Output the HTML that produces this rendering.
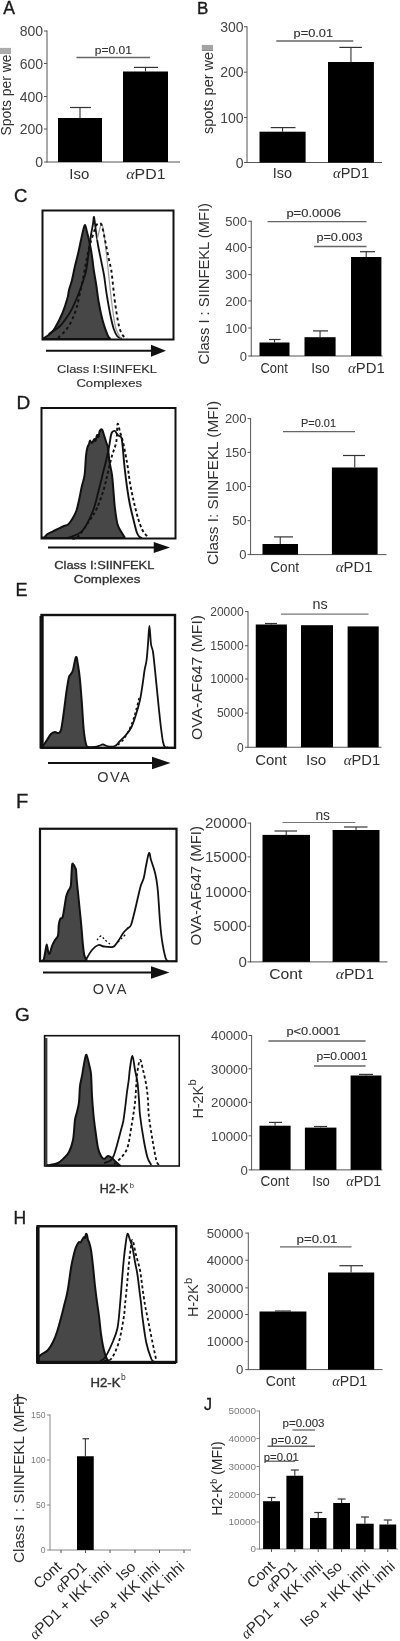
<!DOCTYPE html>
<html><head><meta charset="utf-8"><style>
html,body{margin:0;padding:0;background:#fff;}
body{width:400px;height:1641px;overflow:hidden;}
svg{display:block;font-family:"Liberation Sans",sans-serif;white-space:pre;filter:blur(0.65px) grayscale(1);}
</style></head><body>
<svg width="400" height="1641" viewBox="0 0 400 1641">
<rect x="0" y="0" width="400" height="1641" fill="#fff"/>
<text x="3.2" y="13.5" font-size="17.5" text-anchor="start" fill="#1a1a1a" stroke="#1a1a1a" stroke-width="0.35">A</text>
<line x1="47" y1="30.5" x2="47" y2="162.5" stroke="#555" stroke-width="1.0" stroke-linecap="butt"/>
<line x1="44" y1="31" x2="47" y2="31" stroke="#555" stroke-width="1.0" stroke-linecap="butt"/>
<text x="43" y="36.04" font-size="14" text-anchor="end" fill="#454545">800</text>
<line x1="44" y1="63.5" x2="47" y2="63.5" stroke="#555" stroke-width="1.0" stroke-linecap="butt"/>
<text x="43" y="68.54" font-size="14" text-anchor="end" fill="#454545">600</text>
<line x1="44" y1="96.5" x2="47" y2="96.5" stroke="#555" stroke-width="1.0" stroke-linecap="butt"/>
<text x="43" y="101.54" font-size="14" text-anchor="end" fill="#454545">400</text>
<line x1="44" y1="129" x2="47" y2="129" stroke="#555" stroke-width="1.0" stroke-linecap="butt"/>
<text x="43" y="134.04" font-size="14" text-anchor="end" fill="#454545">200</text>
<line x1="44" y1="162" x2="47" y2="162" stroke="#555" stroke-width="1.0" stroke-linecap="butt"/>
<text x="43" y="167.04" font-size="14" text-anchor="end" fill="#454545">0</text>
<line x1="47" y1="162" x2="180" y2="162" stroke="#555" stroke-width="1.0" stroke-linecap="butt"/>
<rect x="58" y="118" width="44" height="44" fill="#000"/>
<line x1="80.0" y1="118" x2="80.0" y2="107.5" stroke="#333" stroke-width="1.1" stroke-linecap="butt"/>
<line x1="70" y1="107.5" x2="91" y2="107.5" stroke="#333" stroke-width="1.2000000000000002" stroke-linecap="butt"/>
<rect x="123" y="71.5" width="45" height="90.5" fill="#000"/>
<line x1="145.5" y1="71.5" x2="145.5" y2="67.4" stroke="#333" stroke-width="1.1" stroke-linecap="butt"/>
<line x1="134" y1="67.4" x2="158" y2="67.4" stroke="#333" stroke-width="1.2000000000000002" stroke-linecap="butt"/>
<line x1="76.5" y1="57.5" x2="150" y2="57.5" stroke="#666" stroke-width="1.3" stroke-linecap="butt"/>
<text x="113.325" y="54.2" font-size="10.5" text-anchor="middle" fill="#303030" textLength="37.15" lengthAdjust="spacingAndGlyphs" stroke="#303030" stroke-width="0.12">p=0.01</text>
<text x="79.225" y="179" font-size="14" text-anchor="middle" fill="#303030" textLength="19.95" lengthAdjust="spacingAndGlyphs">Iso</text>
<text x="145.9" y="179" font-size="15" text-anchor="middle" fill="#303030" textLength="39.2" lengthAdjust="spacingAndGlyphs"><tspan font-family="Liberation Serif" font-style="italic">α</tspan>PD1</text>
<g transform="translate(10.6 92.0) rotate(-90)"><text x="0" y="0" font-size="14" text-anchor="middle" fill="#303030" textLength="87.0" lengthAdjust="spacingAndGlyphs">Spots per well</text></g>
<text x="197" y="13.5" font-size="17" text-anchor="start" fill="#1a1a1a" stroke="#1a1a1a" stroke-width="0.35">B</text>
<line x1="247" y1="26.25" x2="247" y2="163.0" stroke="#555" stroke-width="1.0" stroke-linecap="butt"/>
<line x1="244" y1="26.75" x2="247" y2="26.75" stroke="#555" stroke-width="1.0" stroke-linecap="butt"/>
<text x="243.5" y="31.79" font-size="14" text-anchor="end" fill="#454545">300</text>
<line x1="244" y1="72.2" x2="247" y2="72.2" stroke="#555" stroke-width="1.0" stroke-linecap="butt"/>
<text x="243.5" y="77.24000000000001" font-size="14" text-anchor="end" fill="#454545">200</text>
<line x1="244" y1="117.5" x2="247" y2="117.5" stroke="#555" stroke-width="1.0" stroke-linecap="butt"/>
<text x="243.5" y="122.54" font-size="14" text-anchor="end" fill="#454545">100</text>
<line x1="244" y1="162.5" x2="247" y2="162.5" stroke="#555" stroke-width="1.0" stroke-linecap="butt"/>
<text x="243.5" y="167.54" font-size="14" text-anchor="end" fill="#454545">0</text>
<line x1="247" y1="162.5" x2="382" y2="162.5" stroke="#555" stroke-width="1.0" stroke-linecap="butt"/>
<rect x="259.5" y="131.7" width="46.1" height="30.8" fill="#000"/>
<line x1="282.55" y1="131.7" x2="282.55" y2="127.6" stroke="#333" stroke-width="1.1" stroke-linecap="butt"/>
<line x1="270.7" y1="127.6" x2="295.5" y2="127.6" stroke="#333" stroke-width="1.2000000000000002" stroke-linecap="butt"/>
<rect x="328" y="62" width="45.9" height="100.5" fill="#000"/>
<line x1="350.95" y1="62" x2="350.95" y2="47.4" stroke="#333" stroke-width="1.1" stroke-linecap="butt"/>
<line x1="339.4" y1="47.4" x2="361.9" y2="47.4" stroke="#333" stroke-width="1.2000000000000002" stroke-linecap="butt"/>
<line x1="276.3" y1="41" x2="353.3" y2="41" stroke="#666" stroke-width="1.3" stroke-linecap="butt"/>
<text x="313.3" y="36.9" font-size="10.5" text-anchor="middle" fill="#303030" textLength="39.4" lengthAdjust="spacingAndGlyphs" stroke="#303030" stroke-width="0.12">p=0.01</text>
<text x="282.375" y="178.2" font-size="14" text-anchor="middle" fill="#303030" textLength="19.25" lengthAdjust="spacingAndGlyphs">Iso</text>
<text x="351.0" y="178.2" font-size="14" text-anchor="middle" fill="#303030" textLength="36" lengthAdjust="spacingAndGlyphs"><tspan font-family="Liberation Serif" font-style="italic">α</tspan>PD1</text>
<g transform="translate(212.5 89.75) rotate(-90)"><text x="0" y="0" font-size="14" text-anchor="middle" fill="#303030" textLength="88.5" lengthAdjust="spacingAndGlyphs">spots per well</text></g>
<text x="14" y="202" font-size="18.5" text-anchor="start" fill="#1a1a1a" stroke="#1a1a1a" stroke-width="0.35">C</text>
<path d="M43.5,338.5 C44.58,337.75 48.08,335.75 50,334 C51.92,332.25 52.92,331.50 55,328 C57.08,324.50 60.42,318.00 62.5,313 C64.58,308.00 66.42,301.83 67.5,298 C68.58,294.17 68.25,293.00 69,290 C69.75,287.00 71.00,284.00 72,280 C73.00,276.00 74.00,270.33 75,266 C76.00,261.67 77.00,258.33 78,254 C79.00,249.67 80.17,243.83 81,240 C81.83,236.17 82.33,233.50 83,231 C83.67,228.50 84.33,224.83 85,225 C85.67,225.17 86.33,229.50 87,232 C87.67,234.50 88.33,237.00 89,240 C89.67,243.00 90.42,246.67 91,250 C91.58,253.33 92.04,256.67 92.5,260 C92.96,263.33 93.12,265.83 93.75,270 C94.38,274.17 95.42,279.58 96.25,285 C97.08,290.42 97.71,296.67 98.75,302.5 C99.79,308.33 101.04,314.58 102.5,320 C103.96,325.42 106.25,331.92 107.5,335 C108.75,338.08 109.58,337.92 110,338.5 L110,339 L43.5,339 Z" fill="#474747" stroke="#111" stroke-width="2.0" stroke-linejoin="round"/>
<path d="M48.75,334 C50.62,332.67 56.46,329.58 60,326 C63.54,322.42 67.33,316.83 70,312.5 C72.67,308.17 74.33,303.75 76,300 C77.67,296.25 78.67,293.67 80,290 C81.33,286.33 82.96,281.33 84,278 C85.04,274.67 85.42,274.67 86.25,270 C87.08,265.33 88.21,255.83 89,250 C89.79,244.17 90.33,239.33 91,235 C91.67,230.67 92.50,227.00 93,224 C93.50,221.00 93.54,216.00 94,217 C94.46,218.00 95.08,225.33 95.75,230 C96.42,234.67 97.12,240.00 98,245 C98.88,250.00 100.00,255.00 101,260 C102.00,265.00 103.12,269.75 104,275 C104.88,280.25 105.50,286.50 106.25,291.5 C107.00,296.50 107.75,300.75 108.5,305 C109.25,309.25 109.88,313.00 110.75,317 C111.62,321.00 112.62,325.75 113.75,329 C114.88,332.25 116.12,334.92 117.5,336.5 C118.88,338.08 121.25,338.17 122,338.5" fill="none" stroke="#111" stroke-width="1.8" stroke-linejoin="round"/>
<path d="M97,240 C97.50,238.00 99.17,230.67 100,228 C100.83,225.33 101.33,223.00 102,224 C102.67,225.00 103.33,229.67 104,234 C104.67,238.33 105.33,244.33 106,250 C106.67,255.67 107.25,261.00 108,268 C108.75,275.00 109.67,284.67 110.5,292 C111.33,299.33 112.08,305.83 113,312 C113.92,318.17 114.67,324.58 116,329 C117.33,333.42 120.17,336.92 121,338.5" fill="none" stroke="#999" stroke-width="1.2" stroke-linejoin="round"/>
<path d="M58,338 C59.33,336.67 63.67,333.00 66,330 C68.33,327.00 70.25,323.67 72,320 C73.75,316.33 75.17,312.50 76.5,308 C77.83,303.50 78.83,298.33 80,293 C81.17,287.67 82.42,281.50 83.5,276 C84.58,270.50 85.58,264.67 86.5,260 C87.42,255.33 88.08,251.67 89,248 C89.92,244.33 90.83,241.67 92,238 C93.17,234.33 94.83,228.50 96,226 C97.17,223.50 98.17,223.33 99,223 C99.83,222.67 100.33,222.83 101,224 C101.67,225.17 102.33,227.33 103,230 C103.67,232.67 104.33,236.67 105,240 C105.67,243.33 106.33,246.67 107,250 C107.67,253.33 108.29,256.67 109,260 C109.71,263.33 110.58,265.83 111.25,270 C111.92,274.17 112.38,279.58 113,285 C113.62,290.42 114.04,295.83 115,302.5 C115.96,309.17 117.50,319.58 118.75,325 C120.00,330.42 121.12,332.75 122.5,335 C123.88,337.25 126.25,337.92 127,338.5" fill="none" stroke="#111" stroke-width="1.9" stroke-linejoin="round" stroke-dasharray="3,3"/>
<rect x="42.5" y="210.5" width="131.0" height="129.0" fill="none" stroke="#111" stroke-width="2.0"/>
<line x1="46" y1="350.75" x2="152" y2="350.75" stroke="#111" stroke-width="2.2" stroke-linecap="butt"/>
<polygon points="151,344.75 166,350.75 151,356.75" fill="#111"/>
<text x="107" y="372.6" font-size="11" text-anchor="middle" fill="#303030" textLength="100" lengthAdjust="spacingAndGlyphs" stroke="#303030" stroke-width="0.15">Class I:SIINFEKL</text>
<text x="109.2" y="386.9" font-size="11" text-anchor="middle" fill="#303030" textLength="65.6" lengthAdjust="spacingAndGlyphs" stroke="#303030" stroke-width="0.15">Complexes</text>
<line x1="251.25" y1="220.75" x2="251.25" y2="356.5" stroke="#555" stroke-width="1.0" stroke-linecap="butt"/>
<line x1="248.25" y1="221.25" x2="251.25" y2="221.25" stroke="#555" stroke-width="1.0" stroke-linecap="butt"/>
<text x="247" y="225.93" font-size="13" text-anchor="end" fill="#454545">500</text>
<line x1="248.25" y1="247.5" x2="251.25" y2="247.5" stroke="#555" stroke-width="1.0" stroke-linecap="butt"/>
<text x="247" y="252.18" font-size="13" text-anchor="end" fill="#454545">400</text>
<line x1="248.25" y1="274.6" x2="251.25" y2="274.6" stroke="#555" stroke-width="1.0" stroke-linecap="butt"/>
<text x="247" y="279.28000000000003" font-size="13" text-anchor="end" fill="#454545">300</text>
<line x1="248.25" y1="300.9" x2="251.25" y2="300.9" stroke="#555" stroke-width="1.0" stroke-linecap="butt"/>
<text x="247" y="305.58" font-size="13" text-anchor="end" fill="#454545">200</text>
<line x1="248.25" y1="328" x2="251.25" y2="328" stroke="#555" stroke-width="1.0" stroke-linecap="butt"/>
<text x="247" y="332.68" font-size="13" text-anchor="end" fill="#454545">100</text>
<line x1="248.25" y1="356" x2="251.25" y2="356" stroke="#555" stroke-width="1.0" stroke-linecap="butt"/>
<text x="247" y="360.68" font-size="13" text-anchor="end" fill="#454545">0</text>
<line x1="251.25" y1="356" x2="382.5" y2="356" stroke="#555" stroke-width="1.0" stroke-linecap="butt"/>
<rect x="259.5" y="342.5" width="30.0" height="13.5" fill="#000"/>
<line x1="274.5" y1="342.5" x2="274.5" y2="339.5" stroke="#333" stroke-width="1.1" stroke-linecap="butt"/>
<line x1="269" y1="339.5" x2="280.5" y2="339.5" stroke="#333" stroke-width="1.2000000000000002" stroke-linecap="butt"/>
<rect x="304.5" y="337.2" width="31.1" height="18.8" fill="#000"/>
<line x1="320.05" y1="337.2" x2="320.05" y2="330.9" stroke="#333" stroke-width="1.1" stroke-linecap="butt"/>
<line x1="313" y1="330.9" x2="328" y2="330.9" stroke="#333" stroke-width="1.2000000000000002" stroke-linecap="butt"/>
<rect x="351" y="257" width="30.4" height="99" fill="#000"/>
<line x1="366.2" y1="257" x2="366.2" y2="251.7" stroke="#333" stroke-width="1.1" stroke-linecap="butt"/>
<line x1="360" y1="251.7" x2="375" y2="251.7" stroke="#333" stroke-width="1.2000000000000002" stroke-linecap="butt"/>
<line x1="267.5" y1="221.6" x2="366.5" y2="221.6" stroke="#666" stroke-width="1.3" stroke-linecap="butt"/>
<text x="313.7" y="216.5" font-size="10.5" text-anchor="middle" fill="#303030" textLength="54.6" lengthAdjust="spacingAndGlyphs" stroke="#303030" stroke-width="0.12">p=0.0006</text>
<line x1="314" y1="246.5" x2="366.5" y2="246.5" stroke="#666" stroke-width="1.3" stroke-linecap="butt"/>
<text x="339.5" y="241.4" font-size="10.5" text-anchor="middle" fill="#303030" textLength="46.2" lengthAdjust="spacingAndGlyphs" stroke="#303030" stroke-width="0.12">p=0.003</text>
<text x="274.15" y="373.2" font-size="14" text-anchor="middle" fill="#303030" textLength="27.3" lengthAdjust="spacingAndGlyphs">Cont</text>
<text x="320.525" y="373.2" font-size="14" text-anchor="middle" fill="#303030" textLength="18.55" lengthAdjust="spacingAndGlyphs">Iso</text>
<text x="366.375" y="373.2" font-size="14" text-anchor="middle" fill="#303030" textLength="36.75" lengthAdjust="spacingAndGlyphs"><tspan font-family="Liberation Serif" font-style="italic">α</tspan>PD1</text>
<g transform="translate(208.7 283.75) rotate(-90)"><text x="0" y="0" font-size="14.5" text-anchor="middle" fill="#303030" textLength="161.5" lengthAdjust="spacingAndGlyphs">Class I : SIINFEKL (MFI)</text></g>
<text x="16.5" y="409" font-size="19" text-anchor="start" fill="#1a1a1a" stroke="#1a1a1a" stroke-width="0.35">D</text>
<path d="M42.5,537.5 C42.88,537.42 43.92,537.58 44.75,537 C45.58,536.42 46.12,534.93 47.5,534 C48.88,533.07 51.17,532.30 53,531.4 C54.83,530.50 56.67,529.50 58.5,528.6 C60.33,527.70 62.40,526.68 64,526 C65.60,525.32 66.72,525.67 68.1,524.5 C69.47,523.33 70.87,521.29 72.25,519 C73.63,516.71 75.26,513.96 76.4,510.75 C77.54,507.54 78.18,503.88 79.1,499.75 C80.02,495.62 80.98,490.12 81.9,486 C82.82,481.88 83.92,480.04 84.6,475 C85.28,469.96 85.53,460.33 86,455.75 C86.47,451.17 86.90,449.46 87.4,447.5 C87.90,445.54 88.57,445.15 89,444 C89.43,442.85 89.50,440.77 90,440.6 C90.50,440.43 91.29,443.27 92,443 C92.71,442.73 93.67,439.33 94.25,439 C94.83,438.67 95.04,441.67 95.5,441 C95.96,440.33 96.50,435.67 97,435 C97.50,434.33 98.04,437.67 98.5,437 C98.96,436.33 99.17,432.23 99.75,431 C100.33,429.77 101.29,428.93 102,429.6 C102.71,430.27 103.23,432.70 104,435 C104.77,437.30 105.93,441.32 106.6,443.4 C107.27,445.48 107.53,444.57 108,447.5 C108.47,450.43 108.73,456.42 109.4,461 C110.07,465.58 111.32,469.92 112,475 C112.68,480.08 113.02,486.00 113.5,491.5 C113.98,497.00 114.22,502.50 114.9,508 C115.58,513.50 116.46,520.38 117.6,524.5 C118.74,528.62 120.60,530.67 121.75,532.75 C122.90,534.83 124.04,536.29 124.5,537 L124.5,538 L42.5,538 Z" fill="#474747" stroke="#111" stroke-width="2.0" stroke-linejoin="round"/>
<path d="M66,538 C67.00,537.75 69.17,537.83 72,536.5 C74.83,535.17 79.50,534.29 83,530 C86.50,525.71 90.43,517.17 93,510.75 C95.57,504.33 96.82,497.46 98.4,491.5 C99.98,485.54 101.13,480.50 102.5,475 C103.87,469.50 105.45,463.54 106.6,458.5 C107.75,453.46 108.71,448.42 109.4,444.75 C110.09,441.08 110.32,438.56 110.75,436.5 C111.18,434.44 111.29,433.32 112,432.4 C112.71,431.48 114.07,430.57 115,431 C115.93,431.43 116.70,434.08 117.6,435 C118.50,435.92 119.71,435.83 120.4,436.5 C121.09,437.17 121.32,436.75 121.75,439 C122.18,441.25 122.54,445.38 123,450 C123.46,454.62 123.79,460.29 124.5,466.75 C125.21,473.21 126.33,482.38 127.25,488.75 C128.17,495.12 128.88,499.50 130,505 C131.12,510.50 132.85,517.12 134,521.75 C135.15,526.38 135.97,530.21 136.9,532.75 C137.83,535.29 138.75,536.12 139.6,537 C140.45,537.88 141.60,537.83 142,538" fill="none" stroke="#111" stroke-width="1.9" stroke-linejoin="round"/>
<path d="M72,538.5 C72.96,538.25 74.96,539.79 77.75,537 C80.54,534.21 85.54,526.58 88.75,521.75 C91.96,516.92 94.47,513.50 97,508 C99.53,502.50 102.07,494.75 103.9,488.75 C105.73,482.75 106.65,477.50 108,472 C109.35,466.50 110.62,460.75 112,455.75 C113.38,450.75 115.32,447.29 116.25,442 C117.18,436.71 116.97,425.67 117.6,424 C118.22,422.33 119.10,429.00 120,432 C120.90,435.00 121.79,436.67 123,442 C124.21,447.33 126.08,457.17 127.25,464 C128.42,470.83 128.88,476.58 130,483 C131.12,489.42 132.62,496.50 134,502.5 C135.38,508.50 136.85,514.42 138.25,519 C139.65,523.58 141.03,527.25 142.4,530 C143.78,532.75 145.40,534.25 146.5,535.5 C147.60,536.75 148.58,537.17 149,537.5" fill="none" stroke="#111" stroke-width="1.9" stroke-linejoin="round" stroke-dasharray="3,2.5"/>
<rect x="41.5" y="408" width="134.0" height="130.5" fill="none" stroke="#111" stroke-width="2.0"/>
<line x1="48" y1="547.5" x2="154.75" y2="547.5" stroke="#111" stroke-width="2.2" stroke-linecap="butt"/>
<polygon points="153.75,542.0 170,547.5 153.75,553.0" fill="#111"/>
<text x="104.3" y="568.75" font-size="11" text-anchor="middle" fill="#303030" textLength="100" lengthAdjust="spacingAndGlyphs" stroke="#303030" stroke-width="0.3">Class I:SIINFEKL</text>
<text x="107.1" y="583" font-size="11" text-anchor="middle" fill="#303030" textLength="66.7" lengthAdjust="spacingAndGlyphs" stroke="#303030" stroke-width="0.3">Complexes</text>
<line x1="250.6" y1="418.1" x2="250.6" y2="555.1" stroke="#555" stroke-width="1.0" stroke-linecap="butt"/>
<line x1="247.6" y1="418.6" x2="250.6" y2="418.6" stroke="#555" stroke-width="1.0" stroke-linecap="butt"/>
<text x="246.6" y="423.28000000000003" font-size="13" text-anchor="end" fill="#454545">200</text>
<line x1="247.6" y1="452.4" x2="250.6" y2="452.4" stroke="#555" stroke-width="1.0" stroke-linecap="butt"/>
<text x="246.6" y="457.08" font-size="13" text-anchor="end" fill="#454545">150</text>
<line x1="247.6" y1="486.5" x2="250.6" y2="486.5" stroke="#555" stroke-width="1.0" stroke-linecap="butt"/>
<text x="246.6" y="491.18" font-size="13" text-anchor="end" fill="#454545">100</text>
<line x1="247.6" y1="520.7" x2="250.6" y2="520.7" stroke="#555" stroke-width="1.0" stroke-linecap="butt"/>
<text x="246.6" y="525.38" font-size="13" text-anchor="end" fill="#454545">50</text>
<line x1="247.6" y1="554.6" x2="250.6" y2="554.6" stroke="#555" stroke-width="1.0" stroke-linecap="butt"/>
<text x="246.6" y="559.28" font-size="13" text-anchor="end" fill="#454545">0</text>
<line x1="250.6" y1="554.6" x2="386.5" y2="554.6" stroke="#555" stroke-width="1.0" stroke-linecap="butt"/>
<rect x="262.5" y="544" width="35.5" height="10.6" fill="#000"/>
<line x1="280.25" y1="544" x2="280.25" y2="536.9" stroke="#333" stroke-width="1.1" stroke-linecap="butt"/>
<line x1="274" y1="536.9" x2="293" y2="536.9" stroke="#333" stroke-width="1.2000000000000002" stroke-linecap="butt"/>
<rect x="331.9" y="467.5" width="45.7" height="87.1" fill="#000"/>
<line x1="354.75" y1="467.5" x2="354.75" y2="455.5" stroke="#333" stroke-width="1.1" stroke-linecap="butt"/>
<line x1="343" y1="455.5" x2="365" y2="455.5" stroke="#333" stroke-width="1.2000000000000002" stroke-linecap="butt"/>
<line x1="283" y1="431.6" x2="355" y2="431.6" stroke="#666" stroke-width="1.3" stroke-linecap="butt"/>
<text x="318.5" y="427" font-size="10.5" text-anchor="middle" fill="#303030" textLength="35" lengthAdjust="spacingAndGlyphs" stroke="#303030" stroke-width="0.12">P=0.01</text>
<text x="284.65" y="571.7" font-size="14" text-anchor="middle" fill="#303030" textLength="28.7" lengthAdjust="spacingAndGlyphs">Cont</text>
<text x="354.125" y="571.7" font-size="14" text-anchor="middle" fill="#303030" textLength="36.75" lengthAdjust="spacingAndGlyphs"><tspan font-family="Liberation Serif" font-style="italic">α</tspan>PD1</text>
<g transform="translate(217.5 483.0) rotate(-90)"><text x="0" y="0" font-size="15" text-anchor="middle" fill="#303030" textLength="164" lengthAdjust="spacingAndGlyphs">Class I:  SIINFEKL (MFI)</text></g>
<text x="15.5" y="596" font-size="18" text-anchor="start" fill="#1a1a1a" stroke="#1a1a1a" stroke-width="0.35">E</text>
<path d="M43,746 C43.67,745.00 45.67,742.00 47,740 C48.33,738.00 49.67,735.33 51,734 C52.33,732.67 53.83,732.17 55,732 C56.17,731.83 57.00,733.33 58,733 C59.00,732.67 60.04,733.42 61,730 C61.96,726.58 62.92,718.33 63.75,712.5 C64.58,706.67 65.38,699.58 66,695 C66.62,690.42 67.00,688.00 67.5,685 C68.00,682.00 68.42,678.83 69,677 C69.58,675.17 70.33,675.17 71,674 C71.67,672.83 72.17,672.83 73,670 C73.83,667.17 75.17,657.83 76,657 C76.83,656.17 77.33,661.17 78,665 C78.67,668.83 79.33,673.33 80,680 C80.67,686.67 81.38,696.67 82,705 C82.62,713.33 83.04,723.33 83.75,730 C84.46,736.67 85.38,742.08 86.25,745 C87.12,747.92 88.54,747.08 89,747.5 L89,748 L43,748 Z" fill="#474747" stroke="#111" stroke-width="2.0" stroke-linejoin="round"/>
<path d="M86,747 C87.50,747.00 92.67,747.25 95,747 C97.33,746.75 98.67,745.92 100,745.5 C101.33,745.08 101.67,744.33 103,744.5 C104.33,744.67 106.00,746.25 108,746.5 C110.00,746.75 113.00,746.92 115,746 C117.00,745.08 118.33,742.67 120,741 C121.67,739.33 123.17,738.17 125,736 C126.83,733.83 129.25,731.33 131,728 C132.75,724.67 134.00,720.67 135.5,716 C137.00,711.33 138.83,705.17 140,700 C141.17,694.83 141.73,690.00 142.5,685 C143.27,680.00 143.92,674.17 144.6,670 C145.28,665.83 146.03,664.33 146.6,660 C147.17,655.67 147.53,649.67 148,644 C148.47,638.33 148.90,626.00 149.4,626 C149.90,626.00 150.40,639.67 151,644 C151.60,648.33 152.33,647.67 153,652 C153.67,656.33 154.33,663.67 155,670 C155.67,676.33 156.33,683.33 157,690 C157.67,696.67 158.33,703.67 159,710 C159.67,716.33 160.33,722.67 161,728 C161.67,733.33 162.33,738.83 163,742 C163.67,745.17 164.17,746.08 165,747 C165.83,747.92 167.50,747.42 168,747.5" fill="none" stroke="#111" stroke-width="1.8" stroke-linejoin="round"/>
<path d="M118,745 C119.00,744.00 122.17,741.50 124,739 C125.83,736.50 127.50,733.17 129,730 C130.50,726.83 131.83,723.33 133,720 C134.17,716.67 135.00,713.67 136,710 C137.00,706.33 138.50,700.00 139,698" fill="none" stroke="#111" stroke-width="1.4" stroke-linejoin="round" stroke-dasharray="2.5,2.5"/>
<rect x="41.5" y="615" width="133.5" height="132.8" fill="none" stroke="#111" stroke-width="2.4"/>
<line x1="41.6" y1="616" x2="41.6" y2="748.5" stroke="#111" stroke-width="4.2" stroke-linecap="butt"/>
<line x1="48" y1="763" x2="153" y2="763" stroke="#111" stroke-width="2.2" stroke-linecap="butt"/>
<polygon points="152,756.8 170.5,763 152,769.2" fill="#111"/>
<text x="113.5" y="781.8" font-size="14.5" text-anchor="middle" fill="#333" textLength="32.5" lengthAdjust="spacing">OVA</text>
<line x1="248" y1="611.1" x2="248" y2="747.75" stroke="#555" stroke-width="1.0" stroke-linecap="butt"/>
<line x1="245" y1="611.6" x2="248" y2="611.6" stroke="#555" stroke-width="1.0" stroke-linecap="butt"/>
<text x="243.6" y="615.9200000000001" font-size="12" text-anchor="end" fill="#454545">20000</text>
<line x1="245" y1="645.75" x2="248" y2="645.75" stroke="#555" stroke-width="1.0" stroke-linecap="butt"/>
<text x="243.6" y="650.07" font-size="12" text-anchor="end" fill="#454545">15000</text>
<line x1="245" y1="679" x2="248" y2="679" stroke="#555" stroke-width="1.0" stroke-linecap="butt"/>
<text x="243.6" y="683.32" font-size="12" text-anchor="end" fill="#454545">10000</text>
<line x1="245" y1="713.1" x2="248" y2="713.1" stroke="#555" stroke-width="1.0" stroke-linecap="butt"/>
<text x="243.6" y="717.4200000000001" font-size="12" text-anchor="end" fill="#454545">5000</text>
<line x1="245" y1="747.25" x2="248" y2="747.25" stroke="#555" stroke-width="1.0" stroke-linecap="butt"/>
<text x="243.6" y="751.57" font-size="12" text-anchor="end" fill="#454545">0</text>
<line x1="248" y1="747.25" x2="381.5" y2="747.25" stroke="#555" stroke-width="1.0" stroke-linecap="butt"/>
<rect x="255.75" y="624.5" width="31.15" height="122.75" fill="#000"/>
<line x1="271.325" y1="624.5" x2="271.325" y2="623.5" stroke="#333" stroke-width="1.1" stroke-linecap="butt"/>
<line x1="265" y1="623.5" x2="277" y2="623.5" stroke="#333" stroke-width="1.2000000000000002" stroke-linecap="butt"/>
<rect x="301" y="625.2" width="32" height="122.05" fill="#000"/>
<rect x="347.6" y="626.4" width="31.1" height="120.85" fill="#000"/>
<line x1="281" y1="614.2" x2="368.5" y2="614.2" stroke="#777" stroke-width="1.2" stroke-linecap="butt"/>
<text x="320.2" y="609.25" font-size="14.5" text-anchor="middle" fill="#303030" textLength="15.2" lengthAdjust="spacingAndGlyphs">ns</text>
<text x="271.0" y="765.2" font-size="15" text-anchor="middle" fill="#303030" textLength="31.5" lengthAdjust="spacingAndGlyphs">Cont</text>
<text x="316.15" y="765.2" font-size="15" text-anchor="middle" fill="#303030" textLength="20.3" lengthAdjust="spacingAndGlyphs">Iso</text>
<text x="362.0" y="765.2" font-size="15" text-anchor="middle" fill="#303030" textLength="36.4" lengthAdjust="spacingAndGlyphs"><tspan font-family="Liberation Serif" font-style="italic">α</tspan>PD1</text>
<g transform="translate(202 677.5) rotate(-90)"><text x="0" y="0" font-size="15" text-anchor="middle" fill="#303030" textLength="125" lengthAdjust="spacingAndGlyphs">OVA-AF647  (MFI)</text></g>
<text x="16" y="807.5" font-size="20" text-anchor="start" fill="#1a1a1a" stroke="#1a1a1a" stroke-width="0.35">F</text>
<path d="M42,960.5 C42.29,960.33 43.21,960.92 43.75,959.5 C44.29,958.08 44.75,954.50 45.25,952 C45.75,949.50 46.25,944.50 46.75,944.5 C47.25,944.50 47.75,950.50 48.25,952 C48.75,953.50 49.12,954.50 49.75,953.5 C50.38,952.50 51.12,948.25 52,946 C52.88,943.75 54.00,941.75 55,940 C56.00,938.25 57.38,938.00 58,935.5 C58.62,933.00 58.38,927.75 58.75,925 C59.12,922.25 59.62,920.25 60.25,919 C60.88,917.75 61.88,919.00 62.5,917.5 C63.12,916.00 63.38,913.50 64,910 C64.62,906.50 65.50,899.75 66.25,896.5 C67.00,893.25 67.75,892.25 68.5,890.5 C69.25,888.75 70.25,888.75 70.75,886 C71.25,883.25 71.25,877.62 71.5,874 C71.75,870.38 71.88,865.75 72.25,864.25 C72.62,862.75 73.25,864.38 73.75,865 C74.25,865.62 74.88,867.25 75.25,868 C75.62,868.75 75.75,867.50 76,869.5 C76.25,871.50 76.38,875.75 76.75,880 C77.12,884.25 77.75,890.00 78.25,895 C78.75,900.00 79.25,905.00 79.75,910 C80.25,915.00 80.75,919.50 81.25,925 C81.75,930.50 82.25,938.00 82.75,943 C83.25,948.00 83.62,952.17 84.25,955 C84.88,957.83 86.12,959.17 86.5,960 L86.5,961 L42,961 Z" fill="#474747" stroke="#111" stroke-width="2.0" stroke-linejoin="round"/>
<path d="M85.75,960 C86.79,958.33 89.89,952.50 92,950 C94.11,947.50 96.40,945.58 98.4,945 C100.40,944.42 101.57,946.20 104,946.5 C106.43,946.80 110.75,947.55 113,946.8 C115.25,946.05 115.70,944.42 117.5,942 C119.30,939.58 122.05,934.63 123.8,932.3 C125.55,929.97 126.80,929.22 128,928 C129.20,926.78 129.83,928.00 131,925 C132.17,922.00 133.79,914.83 135,910 C136.21,905.17 137.25,900.17 138.25,896 C139.25,891.83 140.08,888.00 141,885 C141.92,882.00 142.92,881.17 143.75,878 C144.58,874.83 145.12,870.17 146,866 C146.88,861.83 148.17,854.00 149,853 C149.83,852.00 150.08,857.05 151,860 C151.92,862.95 153.58,867.37 154.5,870.7 C155.42,874.03 155.92,876.37 156.5,880 C157.08,883.63 157.42,885.58 158,892.5 C158.58,899.42 159.35,913.65 160,921.5 C160.65,929.35 160.98,933.57 161.9,939.6 C162.82,945.63 164.48,954.13 165.5,957.7 C166.52,961.27 167.58,960.45 168,961" fill="none" stroke="#111" stroke-width="1.8" stroke-linejoin="round"/>
<path d="M97,940 C97.67,939.33 99.67,936.00 101,936 C102.33,936.00 103.50,938.67 105,940 C106.50,941.33 109.17,943.33 110,944" fill="none" stroke="#111" stroke-width="1.3" stroke-linejoin="round" stroke-dasharray="2,2"/>
<path d="M118,942 C118.67,941.33 120.67,939.33 122,938 C123.33,936.67 125.33,934.67 126,934" fill="none" stroke="#111" stroke-width="1.3" stroke-linejoin="round" stroke-dasharray="2,2"/>
<rect x="40" y="828.75" width="136.5" height="132.5" fill="none" stroke="#111" stroke-width="2.2"/>
<line x1="43" y1="972.5" x2="152" y2="972.5" stroke="#111" stroke-width="2.2" stroke-linecap="butt"/>
<polygon points="151,966.2 169.5,972.5 151,978.8" fill="#111"/>
<text x="109.6" y="993.5" font-size="14.5" text-anchor="middle" fill="#333" textLength="33.5" lengthAdjust="spacing">OVA</text>
<line x1="250.6" y1="822.6" x2="250.6" y2="962.4" stroke="#555" stroke-width="1.0" stroke-linecap="butt"/>
<line x1="247.6" y1="823.1" x2="250.6" y2="823.1" stroke="#555" stroke-width="1.0" stroke-linecap="butt"/>
<text x="246.9" y="828.32" font-size="14.5" text-anchor="end" fill="#454545" textLength="42.0" lengthAdjust="spacingAndGlyphs">20000</text>
<line x1="247.6" y1="856.9" x2="250.6" y2="856.9" stroke="#555" stroke-width="1.0" stroke-linecap="butt"/>
<text x="246.9" y="862.12" font-size="14.5" text-anchor="end" fill="#454545" textLength="42.0" lengthAdjust="spacingAndGlyphs">15000</text>
<line x1="247.6" y1="891.6" x2="250.6" y2="891.6" stroke="#555" stroke-width="1.0" stroke-linecap="butt"/>
<text x="246.9" y="896.82" font-size="14.5" text-anchor="end" fill="#454545" textLength="42.0" lengthAdjust="spacingAndGlyphs">10000</text>
<line x1="247.6" y1="926.25" x2="250.6" y2="926.25" stroke="#555" stroke-width="1.0" stroke-linecap="butt"/>
<text x="246.9" y="931.47" font-size="14.5" text-anchor="end" fill="#454545" textLength="33.6" lengthAdjust="spacingAndGlyphs">5000</text>
<line x1="247.6" y1="961.9" x2="250.6" y2="961.9" stroke="#555" stroke-width="1.0" stroke-linecap="butt"/>
<text x="246.9" y="967.12" font-size="14.5" text-anchor="end" fill="#454545" textLength="8.4" lengthAdjust="spacingAndGlyphs">0</text>
<line x1="250.6" y1="961.9" x2="387.5" y2="961.9" stroke="#555" stroke-width="1.0" stroke-linecap="butt"/>
<rect x="262.5" y="834.9" width="47.5" height="127.0" fill="#000"/>
<line x1="286.25" y1="834.9" x2="286.25" y2="831" stroke="#333" stroke-width="1.1" stroke-linecap="butt"/>
<line x1="274.5" y1="831" x2="297" y2="831" stroke="#333" stroke-width="1.2000000000000002" stroke-linecap="butt"/>
<rect x="332.6" y="830" width="46.9" height="131.9" fill="#000"/>
<line x1="356.05" y1="830" x2="356.05" y2="827" stroke="#333" stroke-width="1.1" stroke-linecap="butt"/>
<line x1="344" y1="827" x2="367.5" y2="827" stroke="#333" stroke-width="1.2000000000000002" stroke-linecap="butt"/>
<line x1="282.4" y1="822.5" x2="355.3" y2="822.5" stroke="#777" stroke-width="1.2" stroke-linecap="butt"/>
<text x="322.7" y="819.8" font-size="14.5" text-anchor="middle" fill="#303030" textLength="14.6" lengthAdjust="spacingAndGlyphs">ns</text>
<text x="285.875" y="978.8" font-size="15" text-anchor="middle" fill="#303030" textLength="33.25" lengthAdjust="spacingAndGlyphs">Cont</text>
<text x="355.0" y="978.8" font-size="15" text-anchor="middle" fill="#303030" textLength="38.5" lengthAdjust="spacingAndGlyphs"><tspan font-family="Liberation Serif" font-style="italic">α</tspan>PD1</text>
<g transform="translate(200.8 885.75) rotate(-90)"><text x="0" y="0" font-size="14.5" text-anchor="middle" fill="#303030" textLength="119.5" lengthAdjust="spacingAndGlyphs">OVA-AF647  (MFI)</text></g>
<text x="15" y="1020.5" font-size="19" text-anchor="start" fill="#1a1a1a" stroke="#1a1a1a" stroke-width="0.35">G</text>
<path d="M47,1165 C47.50,1165.00 48.17,1165.33 50,1165 C51.83,1164.67 55.67,1164.17 58,1163 C60.33,1161.83 62.17,1159.83 64,1158 C65.83,1156.17 67.50,1155.00 69,1152 C70.50,1149.00 72.00,1145.33 73,1140 C74.00,1134.67 74.33,1124.67 75,1120 C75.67,1115.33 76.33,1115.00 77,1112 C77.67,1109.00 78.50,1106.33 79,1102 C79.50,1097.67 79.50,1090.33 80,1086 C80.50,1081.67 81.33,1079.67 82,1076 C82.67,1072.33 83.33,1067.50 84,1064 C84.67,1060.50 85.42,1056.00 86,1055 C86.58,1054.00 87.00,1056.50 87.5,1058 C88.00,1059.50 88.42,1061.33 89,1064 C89.58,1066.67 90.50,1068.67 91,1074 C91.50,1079.33 91.57,1089.00 92,1096 C92.43,1103.00 93.00,1110.00 93.6,1116 C94.20,1122.00 94.87,1126.67 95.6,1132 C96.33,1137.33 97.10,1144.00 98,1148 C98.90,1152.00 100.00,1154.17 101,1156 C102.00,1157.83 102.83,1159.00 104,1159 C105.17,1159.00 106.67,1156.17 108,1156 C109.33,1155.83 110.67,1157.00 112,1158 C113.33,1159.00 114.67,1160.75 116,1162 C117.33,1163.25 119.33,1164.92 120,1165.5 L120,1165.5 L47,1165.5 Z" fill="#474747" stroke="#111" stroke-width="2.0" stroke-linejoin="round"/>
<path d="M104,1163 C105.12,1162.58 109.03,1161.83 110.7,1160.5 C112.37,1159.17 112.95,1157.58 114,1155 C115.05,1152.42 115.83,1149.17 117,1145 C118.17,1140.83 119.93,1134.07 121,1130 C122.07,1125.93 122.65,1124.77 123.4,1120.6 C124.15,1116.43 124.90,1109.77 125.5,1105 C126.10,1100.23 126.46,1096.17 127,1092 C127.54,1087.83 128.25,1084.00 128.75,1080 C129.25,1076.00 129.38,1072.00 130,1068 C130.62,1064.00 131.67,1055.67 132.5,1056 C133.33,1056.33 134.17,1065.58 135,1070 C135.83,1074.42 136.83,1077.50 137.5,1082.5 C138.17,1087.50 138.58,1094.58 139,1100 C139.42,1105.42 139.21,1108.33 140,1115 C140.79,1121.67 142.50,1132.92 143.75,1140 C145.00,1147.08 146.25,1153.33 147.5,1157.5 C148.75,1161.67 150.62,1163.75 151.25,1165" fill="none" stroke="#111" stroke-width="1.8" stroke-linejoin="round"/>
<path d="M114,1164 C115.21,1162.92 119.00,1160.25 121.25,1157.5 C123.50,1154.75 125.83,1152.50 127.5,1147.5 C129.17,1142.50 130.00,1135.00 131.25,1127.5 C132.50,1120.00 134.04,1111.25 135,1102.5 C135.96,1093.75 136.17,1082.08 137,1075 C137.83,1067.92 139.00,1060.83 140,1060 C141.00,1059.17 141.96,1065.83 143,1070 C144.04,1074.17 145.42,1080.00 146.25,1085 C147.08,1090.00 147.58,1095.00 148,1100 C148.42,1105.00 148.00,1108.33 148.75,1115 C149.50,1121.67 151.25,1132.50 152.5,1140 C153.75,1147.50 155.21,1155.83 156.25,1160 C157.29,1164.17 158.33,1164.17 158.75,1165" fill="none" stroke="#111" stroke-width="1.8" stroke-linejoin="round" stroke-dasharray="3,2.5"/>
<rect x="44.6" y="1035.7" width="134.65" height="130.3" fill="none" stroke="#111" stroke-width="1.6"/>
<line x1="46.2" y1="1038" x2="46.2" y2="1165" stroke="#3a3a3a" stroke-width="2.4" stroke-linecap="butt"/>
<text x="114" y="1192.5" font-size="12.5" text-anchor="middle" fill="#303030" textLength="28.5" lengthAdjust="spacingAndGlyphs" stroke="#303030" stroke-width="0.4">H2-K</text>
<text x="129.8" y="1187.5" font-size="7.5" text-anchor="start" fill="#303030">b</text>
<line x1="251.6" y1="1035.0" x2="251.6" y2="1170.4" stroke="#555" stroke-width="1.0" stroke-linecap="butt"/>
<line x1="248.6" y1="1035.5" x2="251.6" y2="1035.5" stroke="#555" stroke-width="1.0" stroke-linecap="butt"/>
<text x="247.75" y="1040.252" font-size="13.2" text-anchor="end" fill="#454545">40000</text>
<line x1="248.6" y1="1068.75" x2="251.6" y2="1068.75" stroke="#555" stroke-width="1.0" stroke-linecap="butt"/>
<text x="247.75" y="1073.502" font-size="13.2" text-anchor="end" fill="#454545">30000</text>
<line x1="248.6" y1="1102.35" x2="251.6" y2="1102.35" stroke="#555" stroke-width="1.0" stroke-linecap="butt"/>
<text x="247.75" y="1107.1019999999999" font-size="13.2" text-anchor="end" fill="#454545">20000</text>
<line x1="248.6" y1="1135.8" x2="251.6" y2="1135.8" stroke="#555" stroke-width="1.0" stroke-linecap="butt"/>
<text x="247.75" y="1140.552" font-size="13.2" text-anchor="end" fill="#454545">10000</text>
<line x1="248.6" y1="1169.9" x2="251.6" y2="1169.9" stroke="#555" stroke-width="1.0" stroke-linecap="butt"/>
<text x="247.75" y="1174.652" font-size="13.2" text-anchor="end" fill="#454545">0</text>
<line x1="251.6" y1="1169.9" x2="382.5" y2="1169.9" stroke="#555" stroke-width="1.0" stroke-linecap="butt"/>
<rect x="259.5" y="1125.7" width="31.1" height="44.2" fill="#000"/>
<line x1="275.05" y1="1125.7" x2="275.05" y2="1122.4" stroke="#333" stroke-width="1.1" stroke-linecap="butt"/>
<line x1="269" y1="1122.4" x2="282" y2="1122.4" stroke="#333" stroke-width="1.2000000000000002" stroke-linecap="butt"/>
<rect x="304.9" y="1127.6" width="31.5" height="42.3" fill="#000"/>
<line x1="320.65" y1="1127.6" x2="320.65" y2="1126.5" stroke="#333" stroke-width="1.1" stroke-linecap="butt"/>
<line x1="314" y1="1126.5" x2="327" y2="1126.5" stroke="#333" stroke-width="1.2000000000000002" stroke-linecap="butt"/>
<rect x="350.6" y="1075.5" width="30.8" height="94.4" fill="#000"/>
<line x1="366.0" y1="1075.5" x2="366.0" y2="1074.4" stroke="#333" stroke-width="1.1" stroke-linecap="butt"/>
<line x1="359" y1="1074.4" x2="373" y2="1074.4" stroke="#333" stroke-width="1.2000000000000002" stroke-linecap="butt"/>
<line x1="268.4" y1="1041" x2="365.6" y2="1041" stroke="#666" stroke-width="1.3" stroke-linecap="butt"/>
<text x="313.4" y="1035" font-size="10.5" text-anchor="middle" fill="#303030" textLength="54.0" lengthAdjust="spacingAndGlyphs" stroke="#303030" stroke-width="0.12">p<0.0001</text>
<line x1="314" y1="1066" x2="365.6" y2="1066" stroke="#666" stroke-width="1.3" stroke-linecap="butt"/>
<text x="341.9" y="1060" font-size="10.5" text-anchor="middle" fill="#303030" textLength="51.0" lengthAdjust="spacingAndGlyphs" stroke="#303030" stroke-width="0.12">p=0.0001</text>
<text x="274.85" y="1186.25" font-size="14" text-anchor="middle" fill="#303030" textLength="28.7" lengthAdjust="spacingAndGlyphs">Cont</text>
<text x="321.05" y="1186.25" font-size="14" text-anchor="middle" fill="#303030" textLength="17.5" lengthAdjust="spacingAndGlyphs">Iso</text>
<text x="363.75" y="1186.25" font-size="14" text-anchor="middle" fill="#303030" textLength="35.0" lengthAdjust="spacingAndGlyphs"><tspan font-family="Liberation Serif" font-style="italic">α</tspan>PD1</text>
<g transform="translate(202.6 1118.6) rotate(-90)"><text x="0" y="0" font-size="14.5" text-anchor="start" fill="#333" textLength="32.6" lengthAdjust="spacingAndGlyphs">H-2K</text><text x="33" y="-6.3" font-size="11" fill="#333">b</text></g>
<text x="13.5" y="1224" font-size="17.5" text-anchor="start" fill="#1a1a1a" stroke="#1a1a1a" stroke-width="0.35">H</text>
<path d="M38.5,1357 C39.08,1356.50 40.42,1355.17 42,1354 C43.58,1352.83 46.17,1352.00 48,1350 C49.83,1348.00 51.50,1345.00 53,1342 C54.50,1339.00 55.67,1336.00 57,1332 C58.33,1328.00 59.83,1322.33 61,1318 C62.17,1313.67 63.00,1310.00 64,1306 C65.00,1302.00 66.17,1298.00 67,1294 C67.83,1290.00 68.33,1286.33 69,1282 C69.67,1277.67 70.33,1272.00 71,1268 C71.67,1264.00 72.33,1261.00 73,1258 C73.67,1255.00 74.33,1252.17 75,1250 C75.67,1247.83 76.33,1246.33 77,1245 C77.67,1243.67 78.42,1242.42 79,1242 C79.58,1241.58 80.00,1242.83 80.5,1242.5 C81.00,1242.17 81.42,1240.92 82,1240 C82.58,1239.08 83.50,1237.33 84,1237 C84.50,1236.67 84.67,1238.50 85,1238 C85.33,1237.50 85.67,1234.50 86,1234 C86.33,1233.50 86.67,1234.00 87,1235 C87.33,1236.00 87.67,1238.83 88,1240 C88.33,1241.17 88.50,1240.33 89,1242 C89.50,1243.67 90.33,1246.00 91,1250 C91.67,1254.00 92.33,1260.00 93,1266 C93.67,1272.00 94.33,1280.00 95,1286 C95.67,1292.00 96.33,1297.00 97,1302 C97.67,1307.00 98.33,1310.67 99,1316 C99.67,1321.33 100.33,1329.00 101,1334 C101.67,1339.00 102.33,1342.67 103,1346 C103.67,1349.33 104.33,1351.83 105,1354 C105.67,1356.17 106.33,1357.75 107,1359 C107.67,1360.25 108.67,1361.08 109,1361.5 L109,1362 L38.5,1362 Z" fill="#474747" stroke="#111" stroke-width="2.0" stroke-linejoin="round"/>
<path d="M100,1361 C100.83,1360.42 102.92,1360.58 105,1357.5 C107.08,1354.42 110.42,1347.42 112.5,1342.5 C114.58,1337.58 116.25,1334.25 117.5,1328 C118.75,1321.75 119.25,1313.00 120,1305 C120.75,1297.00 121.38,1287.50 122,1280 C122.62,1272.50 123.17,1265.83 123.75,1260 C124.33,1254.17 124.88,1249.38 125.5,1245 C126.12,1240.62 126.75,1234.58 127.5,1233.75 C128.25,1232.92 129.17,1237.71 130,1240 C130.83,1242.29 131.67,1243.83 132.5,1247.5 C133.33,1251.17 134.17,1257.42 135,1262 C135.83,1266.58 136.67,1269.50 137.5,1275 C138.33,1280.50 139.38,1290.00 140,1295 C140.62,1300.00 140.83,1301.25 141.25,1305 C141.67,1308.75 141.67,1311.25 142.5,1317.5 C143.33,1323.75 144.79,1335.62 146.25,1342.5 C147.71,1349.38 149.96,1355.58 151.25,1358.75 C152.54,1361.92 153.54,1361.04 154,1361.5" fill="none" stroke="#111" stroke-width="1.8" stroke-linejoin="round"/>
<path d="M104,1361 C105.21,1360.62 108.79,1361.83 111.25,1358.75 C113.71,1355.67 116.67,1349.38 118.75,1342.5 C120.83,1335.62 122.71,1323.75 123.75,1317.5 C124.79,1311.25 124.46,1310.42 125,1305 C125.54,1299.58 126.38,1291.67 127,1285 C127.62,1278.33 128.17,1270.83 128.75,1265 C129.33,1259.17 129.88,1254.17 130.5,1250 C131.12,1245.83 131.58,1239.17 132.5,1240 C133.42,1240.83 134.75,1250.00 136,1255 C137.25,1260.00 138.92,1264.50 140,1270 C141.08,1275.50 141.67,1282.17 142.5,1288 C143.33,1293.83 144.17,1300.08 145,1305 C145.83,1309.92 146.25,1311.25 147.5,1317.5 C148.75,1323.75 151.04,1335.42 152.5,1342.5 C153.96,1349.58 155.62,1357.08 156.25,1360" fill="none" stroke="#111" stroke-width="1.8" stroke-linejoin="round" stroke-dasharray="3,2.5"/>
<rect x="37.5" y="1226.25" width="138.75" height="135.75" fill="none" stroke="#111" stroke-width="2.4"/>
<line x1="37.8" y1="1227" x2="37.8" y2="1363.5" stroke="#111" stroke-width="3.6" stroke-linecap="butt"/>
<line x1="37" y1="1362.6" x2="176" y2="1362.6" stroke="#111" stroke-width="3.0" stroke-linecap="butt"/>
<text x="105.5" y="1386.5" font-size="13" text-anchor="middle" fill="#303030" textLength="30" lengthAdjust="spacingAndGlyphs" stroke="#303030" stroke-width="0.4">H2-K</text>
<text x="121" y="1380" font-size="8.5" text-anchor="start" fill="#303030">b</text>
<line x1="248.3" y1="1232.6" x2="248.3" y2="1370.1" stroke="#555" stroke-width="1.0" stroke-linecap="butt"/>
<line x1="245.3" y1="1233.1" x2="248.3" y2="1233.1" stroke="#555" stroke-width="1.0" stroke-linecap="butt"/>
<text x="243.4" y="1237.8519999999999" font-size="13.2" text-anchor="end" fill="#454545">50000</text>
<line x1="245.3" y1="1260.25" x2="248.3" y2="1260.25" stroke="#555" stroke-width="1.0" stroke-linecap="butt"/>
<text x="243.4" y="1265.002" font-size="13.2" text-anchor="end" fill="#454545">40000</text>
<line x1="245.3" y1="1287.9" x2="248.3" y2="1287.9" stroke="#555" stroke-width="1.0" stroke-linecap="butt"/>
<text x="243.4" y="1292.652" font-size="13.2" text-anchor="end" fill="#454545">30000</text>
<line x1="245.3" y1="1314.5" x2="248.3" y2="1314.5" stroke="#555" stroke-width="1.0" stroke-linecap="butt"/>
<text x="243.4" y="1319.252" font-size="13.2" text-anchor="end" fill="#454545">20000</text>
<line x1="245.3" y1="1341.6" x2="248.3" y2="1341.6" stroke="#555" stroke-width="1.0" stroke-linecap="butt"/>
<text x="243.4" y="1346.3519999999999" font-size="13.2" text-anchor="end" fill="#454545">10000</text>
<line x1="245.3" y1="1369.6" x2="248.3" y2="1369.6" stroke="#555" stroke-width="1.0" stroke-linecap="butt"/>
<text x="243.4" y="1374.3519999999999" font-size="13.2" text-anchor="end" fill="#454545">0</text>
<line x1="248.3" y1="1369.6" x2="382.5" y2="1369.6" stroke="#555" stroke-width="1.0" stroke-linecap="butt"/>
<rect x="259.5" y="1311.5" width="46.9" height="58.1" fill="#000"/>
<line x1="282.95" y1="1311.5" x2="282.95" y2="1311" stroke="#333" stroke-width="1.1" stroke-linecap="butt"/>
<line x1="275" y1="1311" x2="291" y2="1311" stroke="#333" stroke-width="1.2000000000000002" stroke-linecap="butt"/>
<rect x="328" y="1272.5" width="46.2" height="97.1" fill="#000"/>
<line x1="351.1" y1="1272.5" x2="351.1" y2="1265.7" stroke="#333" stroke-width="1.1" stroke-linecap="butt"/>
<line x1="339.4" y1="1265.7" x2="363" y2="1265.7" stroke="#333" stroke-width="1.2000000000000002" stroke-linecap="butt"/>
<line x1="280" y1="1246.8" x2="351.5" y2="1246.8" stroke="#666" stroke-width="1.3" stroke-linecap="butt"/>
<text x="317.0" y="1242.5" font-size="10.5" text-anchor="middle" fill="#303030" textLength="41.0" lengthAdjust="spacingAndGlyphs" stroke="#303030" stroke-width="0.12">p=0.01</text>
<text x="280.625" y="1386.25" font-size="14" text-anchor="middle" fill="#303030" textLength="29.75" lengthAdjust="spacingAndGlyphs">Cont</text>
<text x="349.75" y="1386.25" font-size="14" text-anchor="middle" fill="#303030" textLength="35.0" lengthAdjust="spacingAndGlyphs"><tspan font-family="Liberation Serif" font-style="italic">α</tspan>PD1</text>
<g transform="translate(198.4 1317) rotate(-90)"><text x="0" y="0" font-size="14.5" text-anchor="start" fill="#333" textLength="32.6" lengthAdjust="spacingAndGlyphs">H-2K</text><text x="33" y="-6.3" font-size="11" fill="#333">b</text></g>
<line x1="17.7" y1="1394" x2="17.7" y2="1406" stroke="#222" stroke-width="1.6" stroke-linecap="butt"/>
<line x1="50" y1="1414.5" x2="50" y2="1550.5" stroke="#888" stroke-width="1.0" stroke-linecap="butt"/>
<line x1="47" y1="1415" x2="50" y2="1415" stroke="#888" stroke-width="1.0" stroke-linecap="butt"/>
<text x="45.5" y="1418.42" font-size="9.5" text-anchor="end" fill="#7a7a7a" textLength="14.4" lengthAdjust="spacingAndGlyphs">150</text>
<line x1="47" y1="1460" x2="50" y2="1460" stroke="#888" stroke-width="1.0" stroke-linecap="butt"/>
<text x="45.5" y="1463.42" font-size="9.5" text-anchor="end" fill="#7a7a7a" textLength="14.4" lengthAdjust="spacingAndGlyphs">100</text>
<line x1="47" y1="1505" x2="50" y2="1505" stroke="#888" stroke-width="1.0" stroke-linecap="butt"/>
<text x="45.5" y="1508.42" font-size="9.5" text-anchor="end" fill="#7a7a7a" textLength="9.6" lengthAdjust="spacingAndGlyphs">50</text>
<line x1="47" y1="1550" x2="50" y2="1550" stroke="#888" stroke-width="1.0" stroke-linecap="butt"/>
<text x="45.5" y="1553.42" font-size="9.5" text-anchor="end" fill="#7a7a7a" textLength="4.8" lengthAdjust="spacingAndGlyphs">0</text>
<line x1="50" y1="1550" x2="191" y2="1550" stroke="#888" stroke-width="1.0" stroke-linecap="butt"/>
<line x1="61" y1="1550" x2="61" y2="1553" stroke="#555" stroke-width="1.0" stroke-linecap="butt"/>
<line x1="85.5" y1="1550" x2="85.5" y2="1553" stroke="#555" stroke-width="1.0" stroke-linecap="butt"/>
<line x1="110" y1="1550" x2="110" y2="1553" stroke="#555" stroke-width="1.0" stroke-linecap="butt"/>
<line x1="135" y1="1550" x2="135" y2="1553" stroke="#555" stroke-width="1.0" stroke-linecap="butt"/>
<line x1="159.5" y1="1550" x2="159.5" y2="1553" stroke="#555" stroke-width="1.0" stroke-linecap="butt"/>
<line x1="184" y1="1550" x2="184" y2="1553" stroke="#555" stroke-width="1.0" stroke-linecap="butt"/>
<rect x="77" y="1456.25" width="16.75" height="93.75" fill="#000"/>
<line x1="85.375" y1="1456.25" x2="85.375" y2="1438.75" stroke="#333" stroke-width="1.1" stroke-linecap="butt"/>
<line x1="82.5" y1="1438.75" x2="89" y2="1438.75" stroke="#333" stroke-width="1.2000000000000002" stroke-linecap="butt"/>
<g transform="translate(23.5 1479.5) rotate(-90)"><text x="0" y="0" font-size="15" text-anchor="middle" fill="#303030" textLength="167" lengthAdjust="spacingAndGlyphs">Class I : SIINFEKL (MFI)</text></g>
<g transform="translate(62.5 1568) rotate(-43)"><text x="0" y="0" font-size="15" text-anchor="end" fill="#262626">Cont</text></g>
<g transform="translate(87.5 1568) rotate(-43)"><text x="0" y="0" font-size="15" text-anchor="end" fill="#262626"><tspan font-family="Liberation Serif" font-style="italic">α</tspan>PD1</text></g>
<g transform="translate(112.5 1568) rotate(-43)"><text x="0" y="0" font-size="15" text-anchor="end" fill="#262626"><tspan font-family="Liberation Serif" font-style="italic">α</tspan>PD1 + IKK inhi</text></g>
<g transform="translate(136.5 1568) rotate(-43)"><text x="0" y="0" font-size="15" text-anchor="end" fill="#262626">Iso</text></g>
<g transform="translate(161.0 1568) rotate(-43)"><text x="0" y="0" font-size="15" text-anchor="end" fill="#262626">Iso + IKK inhi</text></g>
<g transform="translate(185.5 1568) rotate(-43)"><text x="0" y="0" font-size="15" text-anchor="end" fill="#262626">IKK inhi</text></g>
<text x="204" y="1409.5" font-size="16" text-anchor="start" fill="#1a1a1a" stroke="#1a1a1a" stroke-width="0.35">J</text>
<line x1="259.5" y1="1410.5" x2="259.5" y2="1549.5" stroke="#888" stroke-width="1.0" stroke-linecap="butt"/>
<line x1="256.5" y1="1411" x2="259.5" y2="1411" stroke="#888" stroke-width="1.0" stroke-linecap="butt"/>
<text x="256" y="1414.42" font-size="9.5" text-anchor="end" fill="#7a7a7a" textLength="27.5" lengthAdjust="spacingAndGlyphs">50000</text>
<line x1="256.5" y1="1438.5" x2="259.5" y2="1438.5" stroke="#888" stroke-width="1.0" stroke-linecap="butt"/>
<text x="256" y="1441.92" font-size="9.5" text-anchor="end" fill="#7a7a7a" textLength="27.5" lengthAdjust="spacingAndGlyphs">40000</text>
<line x1="256.5" y1="1466.5" x2="259.5" y2="1466.5" stroke="#888" stroke-width="1.0" stroke-linecap="butt"/>
<text x="256" y="1469.92" font-size="9.5" text-anchor="end" fill="#7a7a7a" textLength="27.5" lengthAdjust="spacingAndGlyphs">30000</text>
<line x1="256.5" y1="1494.5" x2="259.5" y2="1494.5" stroke="#888" stroke-width="1.0" stroke-linecap="butt"/>
<text x="256" y="1497.92" font-size="9.5" text-anchor="end" fill="#7a7a7a" textLength="27.5" lengthAdjust="spacingAndGlyphs">20000</text>
<line x1="256.5" y1="1522" x2="259.5" y2="1522" stroke="#888" stroke-width="1.0" stroke-linecap="butt"/>
<text x="256" y="1525.42" font-size="9.5" text-anchor="end" fill="#7a7a7a" textLength="27.5" lengthAdjust="spacingAndGlyphs">10000</text>
<line x1="256.5" y1="1549" x2="259.5" y2="1549" stroke="#888" stroke-width="1.0" stroke-linecap="butt"/>
<text x="256" y="1552.42" font-size="9.5" text-anchor="end" fill="#7a7a7a" textLength="5.5" lengthAdjust="spacingAndGlyphs">0</text>
<line x1="259.5" y1="1549" x2="398" y2="1549" stroke="#888" stroke-width="1.0" stroke-linecap="butt"/>
<line x1="271.5" y1="1549" x2="271.5" y2="1552" stroke="#555" stroke-width="1.0" stroke-linecap="butt"/>
<line x1="294.8" y1="1549" x2="294.8" y2="1552" stroke="#555" stroke-width="1.0" stroke-linecap="butt"/>
<line x1="318.2" y1="1549" x2="318.2" y2="1552" stroke="#555" stroke-width="1.0" stroke-linecap="butt"/>
<line x1="341.6" y1="1549" x2="341.6" y2="1552" stroke="#555" stroke-width="1.0" stroke-linecap="butt"/>
<line x1="364.9" y1="1549" x2="364.9" y2="1552" stroke="#555" stroke-width="1.0" stroke-linecap="butt"/>
<line x1="387.8" y1="1549" x2="387.8" y2="1552" stroke="#555" stroke-width="1.0" stroke-linecap="butt"/>
<rect x="263.1" y="1501.2" width="16.9" height="47.8" fill="#000"/>
<line x1="271.55" y1="1501.2" x2="271.55" y2="1497.5" stroke="#333" stroke-width="1.1" stroke-linecap="butt"/>
<line x1="267.55" y1="1497.5" x2="275.55" y2="1497.5" stroke="#333" stroke-width="1.2000000000000002" stroke-linecap="butt"/>
<rect x="286.4" y="1475.75" width="16.8" height="73.25" fill="#000"/>
<line x1="294.79999999999995" y1="1475.75" x2="294.79999999999995" y2="1470" stroke="#333" stroke-width="1.1" stroke-linecap="butt"/>
<line x1="290.79999999999995" y1="1470" x2="298.79999999999995" y2="1470" stroke="#333" stroke-width="1.2000000000000002" stroke-linecap="butt"/>
<rect x="310" y="1518" width="16.5" height="31" fill="#000"/>
<line x1="318.25" y1="1518" x2="318.25" y2="1512.5" stroke="#333" stroke-width="1.1" stroke-linecap="butt"/>
<line x1="314.25" y1="1512.5" x2="322.25" y2="1512.5" stroke="#333" stroke-width="1.2000000000000002" stroke-linecap="butt"/>
<rect x="333.2" y="1503" width="16.8" height="46" fill="#000"/>
<line x1="341.6" y1="1503" x2="341.6" y2="1499" stroke="#333" stroke-width="1.1" stroke-linecap="butt"/>
<line x1="337.6" y1="1499" x2="345.6" y2="1499" stroke="#333" stroke-width="1.2000000000000002" stroke-linecap="butt"/>
<rect x="356.1" y="1523.7" width="17.6" height="25.3" fill="#000"/>
<line x1="364.9" y1="1523.7" x2="364.9" y2="1517" stroke="#333" stroke-width="1.1" stroke-linecap="butt"/>
<line x1="360.9" y1="1517" x2="368.9" y2="1517" stroke="#333" stroke-width="1.2000000000000002" stroke-linecap="butt"/>
<rect x="379.4" y="1524.5" width="16.8" height="24.5" fill="#000"/>
<line x1="387.79999999999995" y1="1524.5" x2="387.79999999999995" y2="1520" stroke="#333" stroke-width="1.1" stroke-linecap="butt"/>
<line x1="383.79999999999995" y1="1520" x2="391.79999999999995" y2="1520" stroke="#333" stroke-width="1.2000000000000002" stroke-linecap="butt"/>
<line x1="292.5" y1="1430" x2="315" y2="1430" stroke="#666" stroke-width="1.3" stroke-linecap="butt"/>
<text x="303.5" y="1426.5" font-size="11.5" text-anchor="middle" fill="#303030" textLength="42.0" lengthAdjust="spacingAndGlyphs" stroke="#303030" stroke-width="0.12">p=0.003</text>
<line x1="267.5" y1="1446.25" x2="315" y2="1446.25" stroke="#666" stroke-width="1.3" stroke-linecap="butt"/>
<text x="289.25" y="1444" font-size="11.5" text-anchor="middle" fill="#303030" textLength="36.5" lengthAdjust="spacingAndGlyphs" stroke="#303030" stroke-width="0.12">p=0.02</text>
<line x1="265" y1="1461.25" x2="295" y2="1461.25" stroke="#666" stroke-width="1.3" stroke-linecap="butt"/>
<text x="281.25" y="1460.5" font-size="11.5" text-anchor="middle" fill="#303030" textLength="35.0" lengthAdjust="spacingAndGlyphs" stroke="#303030" stroke-width="0.12">p=0.01</text>
<g transform="translate(221.5 1478.5) rotate(-90)"><text x="0" y="0" font-size="14" text-anchor="middle" fill="#262626">H2-K<tspan font-size="9" dy="-5">b</tspan><tspan dy="5"> (MFI)</tspan></text></g>
<g transform="translate(276 1567.5) rotate(-43)"><text x="0" y="0" font-size="15" text-anchor="end" fill="#262626">Cont</text></g>
<g transform="translate(298 1567.5) rotate(-43)"><text x="0" y="0" font-size="15" text-anchor="end" fill="#262626"><tspan font-family="Liberation Serif" font-style="italic">α</tspan>PD1</text></g>
<g transform="translate(324 1567.5) rotate(-43)"><text x="0" y="0" font-size="15" text-anchor="end" fill="#262626"><tspan font-family="Liberation Serif" font-style="italic">α</tspan>PD1 + IKK inhi</text></g>
<g transform="translate(343 1567.5) rotate(-43)"><text x="0" y="0" font-size="15" text-anchor="end" fill="#262626">Iso</text></g>
<g transform="translate(371 1567.5) rotate(-43)"><text x="0" y="0" font-size="15" text-anchor="end" fill="#262626">Iso + IKK inhi</text></g>
<g transform="translate(396 1567.5) rotate(-43)"><text x="0" y="0" font-size="15" text-anchor="end" fill="#262626">IKK inhi</text></g>
<rect x="0" y="47.9" width="11" height="6.1" fill="#ababab"/>
<rect x="201.8" y="44.9" width="11.2" height="5.9" fill="#a4a4a4"/>
</svg>
</body></html>
